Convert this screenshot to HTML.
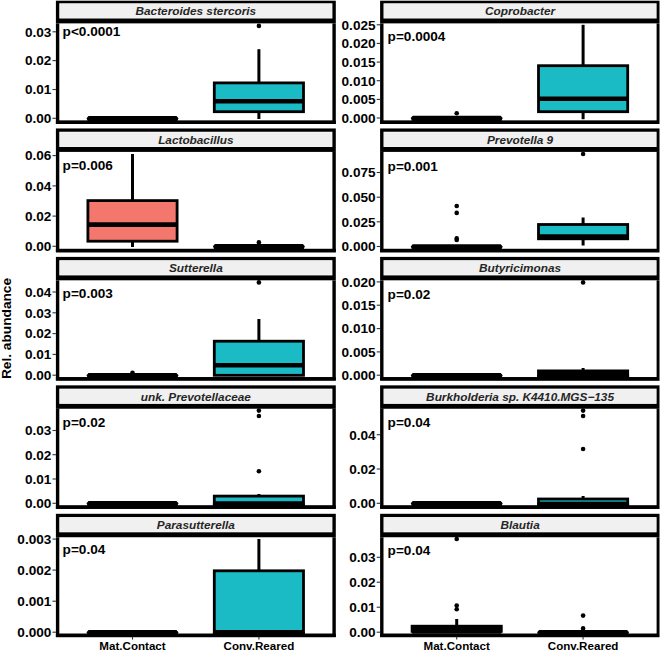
<!DOCTYPE html>
<html><head><meta charset="utf-8"><title>Rel. abundance boxplots</title>
<style>
html,body{margin:0;padding:0;background:#fff;}
body{width:660px;height:651px;overflow:hidden;}
svg{display:block;font-family:"Liberation Sans", sans-serif;}
</style></head>
<body>
<svg width="660" height="651" viewBox="0 0 660 651">
<rect x="0" y="0" width="660" height="651" fill="#fff"/>
<rect x="55.90" y="0.70" width="279.90" height="22.80" fill="#000"/>
<rect x="59.30" y="3.30" width="273.10" height="15.20" fill="#fff"/>
<rect x="59.90" y="3.90" width="271.90" height="14.00" fill="#f0f0f0"/>
<text x="195.85" y="15.20" font-size="11.8" font-weight="bold" font-style="italic" text-anchor="middle" fill="#262626">Bacteroides stercoris</text>
<rect x="55.90" y="23.50" width="279.90" height="100.50" fill="#000"/>
<rect x="59.30" y="23.50" width="273.10" height="97.10" fill="#fff"/>
<text x="62.60" y="35.90" font-size="13.6" font-weight="bold" font-style="normal" text-anchor="start" fill="#000">p&lt;0.0001</text>
<polygon points="86.50,118.30 88.50,116.00 176.50,116.00 178.50,118.30 177.50,120.60 177.50,121.70 87.50,121.70 87.50,120.60" fill="#000"/>
<line x1="258.90" y1="49.20" x2="258.90" y2="82.90" stroke="#000" stroke-width="3.0"/>
<line x1="258.90" y1="111.70" x2="258.90" y2="119.00" stroke="#000" stroke-width="3.0"/>
<rect x="214.30" y="82.90" width="89.20" height="28.80" fill="#1bbbc5" stroke="#000" stroke-width="2.8"/>
<line x1="214.30" y1="101.20" x2="303.50" y2="101.20" stroke="#000" stroke-width="4.6"/>
<circle cx="258.90" cy="25.90" r="2.3" fill="#000"/>
<rect x="55.90" y="120.60" width="279.90" height="3.40" fill="#000"/>
<line x1="52.50" y1="118.30" x2="55.90" y2="118.30" stroke="#333" stroke-width="1.1"/>
<text x="51.40" y="123.10" font-size="13.6" font-weight="bold" font-style="normal" text-anchor="end" fill="#000">0.00</text>
<line x1="52.50" y1="89.50" x2="55.90" y2="89.50" stroke="#333" stroke-width="1.1"/>
<text x="51.40" y="94.30" font-size="13.6" font-weight="bold" font-style="normal" text-anchor="end" fill="#000">0.01</text>
<line x1="52.50" y1="60.60" x2="55.90" y2="60.60" stroke="#333" stroke-width="1.1"/>
<text x="51.40" y="65.40" font-size="13.6" font-weight="bold" font-style="normal" text-anchor="end" fill="#000">0.02</text>
<line x1="52.50" y1="31.80" x2="55.90" y2="31.80" stroke="#333" stroke-width="1.1"/>
<text x="51.40" y="36.60" font-size="13.6" font-weight="bold" font-style="normal" text-anchor="end" fill="#000">0.03</text>
<rect x="380.10" y="0.70" width="279.90" height="22.80" fill="#000"/>
<rect x="383.50" y="3.30" width="273.10" height="15.20" fill="#fff"/>
<rect x="384.10" y="3.90" width="271.90" height="14.00" fill="#f0f0f0"/>
<text x="520.05" y="15.20" font-size="11.8" font-weight="bold" font-style="italic" text-anchor="middle" fill="#262626">Coprobacter</text>
<rect x="380.10" y="23.50" width="279.90" height="100.50" fill="#000"/>
<rect x="383.50" y="23.50" width="273.10" height="97.10" fill="#fff"/>
<text x="387.60" y="41.30" font-size="13.6" font-weight="bold" font-style="normal" text-anchor="start" fill="#000">p=0.0004</text>
<polygon points="410.70,118.00 412.70,115.70 500.70,115.70 502.70,118.00 501.70,120.30 501.70,121.40 411.70,121.40 411.70,120.30" fill="#000"/>
<circle cx="456.70" cy="113.20" r="2.3" fill="#000"/>
<line x1="583.10" y1="24.80" x2="583.10" y2="65.70" stroke="#000" stroke-width="3.0"/>
<line x1="583.10" y1="111.70" x2="583.10" y2="119.20" stroke="#000" stroke-width="3.0"/>
<rect x="538.50" y="65.70" width="89.20" height="46.00" fill="#1bbbc5" stroke="#000" stroke-width="2.8"/>
<line x1="538.50" y1="98.70" x2="627.70" y2="98.70" stroke="#000" stroke-width="4.6"/>
<rect x="380.10" y="120.60" width="279.90" height="3.40" fill="#000"/>
<line x1="376.70" y1="118.00" x2="380.10" y2="118.00" stroke="#333" stroke-width="1.1"/>
<text x="375.60" y="122.80" font-size="13.6" font-weight="bold" font-style="normal" text-anchor="end" fill="#000">0.000</text>
<line x1="376.70" y1="99.40" x2="380.10" y2="99.40" stroke="#333" stroke-width="1.1"/>
<text x="375.60" y="104.20" font-size="13.6" font-weight="bold" font-style="normal" text-anchor="end" fill="#000">0.005</text>
<line x1="376.70" y1="80.70" x2="380.10" y2="80.70" stroke="#333" stroke-width="1.1"/>
<text x="375.60" y="85.50" font-size="13.6" font-weight="bold" font-style="normal" text-anchor="end" fill="#000">0.010</text>
<line x1="376.70" y1="62.10" x2="380.10" y2="62.10" stroke="#333" stroke-width="1.1"/>
<text x="375.60" y="66.90" font-size="13.6" font-weight="bold" font-style="normal" text-anchor="end" fill="#000">0.015</text>
<line x1="376.70" y1="43.40" x2="380.10" y2="43.40" stroke="#333" stroke-width="1.1"/>
<text x="375.60" y="48.20" font-size="13.6" font-weight="bold" font-style="normal" text-anchor="end" fill="#000">0.020</text>
<line x1="376.70" y1="24.80" x2="380.10" y2="24.80" stroke="#333" stroke-width="1.1"/>
<text x="375.60" y="29.60" font-size="13.6" font-weight="bold" font-style="normal" text-anchor="end" fill="#000">0.025</text>
<rect x="55.90" y="128.45" width="279.90" height="23.50" fill="#000"/>
<rect x="59.30" y="131.75" width="273.10" height="15.20" fill="#fff"/>
<rect x="59.90" y="132.35" width="271.90" height="14.00" fill="#f0f0f0"/>
<text x="195.85" y="143.65" font-size="11.8" font-weight="bold" font-style="italic" text-anchor="middle" fill="#262626">Lactobacillus</text>
<rect x="55.90" y="151.95" width="279.90" height="100.33" fill="#000"/>
<rect x="59.30" y="151.95" width="273.10" height="96.93" fill="#fff"/>
<text x="62.60" y="169.90" font-size="13.6" font-weight="bold" font-style="normal" text-anchor="start" fill="#000">p=0.006</text>
<line x1="132.50" y1="154.00" x2="132.50" y2="200.60" stroke="#000" stroke-width="3.0"/>
<line x1="132.50" y1="241.20" x2="132.50" y2="247.00" stroke="#000" stroke-width="3.0"/>
<rect x="87.90" y="200.60" width="89.20" height="40.60" fill="#f3776d" stroke="#000" stroke-width="2.8"/>
<line x1="87.90" y1="224.60" x2="177.10" y2="224.60" stroke="#000" stroke-width="4.6"/>
<polygon points="212.90,246.30 214.90,244.00 302.90,244.00 304.90,246.30 303.90,248.60 303.90,249.70 213.90,249.70 213.90,248.60" fill="#000"/>
<circle cx="258.90" cy="242.40" r="2.3" fill="#000"/>
<rect x="55.90" y="248.88" width="279.90" height="3.40" fill="#000"/>
<line x1="52.50" y1="246.30" x2="55.90" y2="246.30" stroke="#333" stroke-width="1.1"/>
<text x="51.40" y="251.10" font-size="13.6" font-weight="bold" font-style="normal" text-anchor="end" fill="#000">0.00</text>
<line x1="52.50" y1="216.10" x2="55.90" y2="216.10" stroke="#333" stroke-width="1.1"/>
<text x="51.40" y="220.90" font-size="13.6" font-weight="bold" font-style="normal" text-anchor="end" fill="#000">0.02</text>
<line x1="52.50" y1="185.90" x2="55.90" y2="185.90" stroke="#333" stroke-width="1.1"/>
<text x="51.40" y="190.70" font-size="13.6" font-weight="bold" font-style="normal" text-anchor="end" fill="#000">0.04</text>
<line x1="52.50" y1="155.60" x2="55.90" y2="155.60" stroke="#333" stroke-width="1.1"/>
<text x="51.40" y="160.40" font-size="13.6" font-weight="bold" font-style="normal" text-anchor="end" fill="#000">0.06</text>
<rect x="380.10" y="128.45" width="279.90" height="23.50" fill="#000"/>
<rect x="383.50" y="131.75" width="273.10" height="15.20" fill="#fff"/>
<rect x="384.10" y="132.35" width="271.90" height="14.00" fill="#f0f0f0"/>
<text x="520.05" y="143.65" font-size="11.8" font-weight="bold" font-style="italic" text-anchor="middle" fill="#262626">Prevotella 9</text>
<rect x="380.10" y="151.95" width="279.90" height="100.33" fill="#000"/>
<rect x="383.50" y="151.95" width="273.10" height="96.93" fill="#fff"/>
<text x="387.60" y="171.30" font-size="13.6" font-weight="bold" font-style="normal" text-anchor="start" fill="#000">p=0.001</text>
<polygon points="410.70,246.50 412.70,244.20 500.70,244.20 502.70,246.50 501.70,248.80 501.70,249.90 411.70,249.90 411.70,248.80" fill="#000"/>
<circle cx="456.70" cy="206.00" r="2.3" fill="#000"/>
<circle cx="456.70" cy="212.90" r="2.3" fill="#000"/>
<circle cx="456.70" cy="238.40" r="2.3" fill="#000"/>
<circle cx="456.70" cy="240.00" r="2.3" fill="#000"/>
<line x1="583.10" y1="217.50" x2="583.10" y2="224.50" stroke="#000" stroke-width="3.0"/>
<line x1="583.10" y1="238.80" x2="583.10" y2="245.50" stroke="#000" stroke-width="3.0"/>
<rect x="538.50" y="224.50" width="89.20" height="14.30" fill="#1bbbc5" stroke="#000" stroke-width="2.8"/>
<line x1="538.50" y1="236.60" x2="627.70" y2="236.60" stroke="#000" stroke-width="4.6"/>
<circle cx="583.10" cy="154.00" r="2.3" fill="#000"/>
<rect x="380.10" y="248.88" width="279.90" height="3.40" fill="#000"/>
<line x1="376.70" y1="246.50" x2="380.10" y2="246.50" stroke="#333" stroke-width="1.1"/>
<text x="375.60" y="251.30" font-size="13.6" font-weight="bold" font-style="normal" text-anchor="end" fill="#000">0.000</text>
<line x1="376.70" y1="221.80" x2="380.10" y2="221.80" stroke="#333" stroke-width="1.1"/>
<text x="375.60" y="226.60" font-size="13.6" font-weight="bold" font-style="normal" text-anchor="end" fill="#000">0.025</text>
<line x1="376.70" y1="197.20" x2="380.10" y2="197.20" stroke="#333" stroke-width="1.1"/>
<text x="375.60" y="202.00" font-size="13.6" font-weight="bold" font-style="normal" text-anchor="end" fill="#000">0.050</text>
<line x1="376.70" y1="172.50" x2="380.10" y2="172.50" stroke="#333" stroke-width="1.1"/>
<text x="375.60" y="177.30" font-size="13.6" font-weight="bold" font-style="normal" text-anchor="end" fill="#000">0.075</text>
<rect x="55.90" y="256.90" width="279.90" height="23.50" fill="#000"/>
<rect x="59.30" y="260.20" width="273.10" height="15.20" fill="#fff"/>
<rect x="59.90" y="260.80" width="271.90" height="14.00" fill="#f0f0f0"/>
<text x="195.85" y="272.10" font-size="11.8" font-weight="bold" font-style="italic" text-anchor="middle" fill="#262626">Sutterella</text>
<rect x="55.90" y="280.40" width="279.90" height="100.16" fill="#000"/>
<rect x="59.30" y="280.40" width="273.10" height="96.76" fill="#fff"/>
<text x="62.60" y="298.30" font-size="13.6" font-weight="bold" font-style="normal" text-anchor="start" fill="#000">p=0.003</text>
<polygon points="86.50,375.20 88.50,372.90 176.50,372.90 178.50,375.20 177.50,377.50 177.50,378.60 87.50,378.60 87.50,377.50" fill="#000"/>
<circle cx="132.50" cy="372.80" r="2.3" fill="#000"/>
<line x1="258.90" y1="319.00" x2="258.90" y2="341.20" stroke="#000" stroke-width="3.0"/>
<line x1="258.90" y1="375.30" x2="258.90" y2="376.00" stroke="#000" stroke-width="3.0"/>
<rect x="214.30" y="341.20" width="89.20" height="34.10" fill="#1bbbc5" stroke="#000" stroke-width="2.8"/>
<line x1="214.30" y1="365.20" x2="303.50" y2="365.20" stroke="#000" stroke-width="4.6"/>
<circle cx="258.90" cy="282.40" r="2.3" fill="#000"/>
<rect x="55.90" y="377.16" width="279.90" height="3.40" fill="#000"/>
<line x1="52.50" y1="375.20" x2="55.90" y2="375.20" stroke="#333" stroke-width="1.1"/>
<text x="51.40" y="380.00" font-size="13.6" font-weight="bold" font-style="normal" text-anchor="end" fill="#000">0.00</text>
<line x1="52.50" y1="354.40" x2="55.90" y2="354.40" stroke="#333" stroke-width="1.1"/>
<text x="51.40" y="359.20" font-size="13.6" font-weight="bold" font-style="normal" text-anchor="end" fill="#000">0.01</text>
<line x1="52.50" y1="333.60" x2="55.90" y2="333.60" stroke="#333" stroke-width="1.1"/>
<text x="51.40" y="338.40" font-size="13.6" font-weight="bold" font-style="normal" text-anchor="end" fill="#000">0.02</text>
<line x1="52.50" y1="312.80" x2="55.90" y2="312.80" stroke="#333" stroke-width="1.1"/>
<text x="51.40" y="317.60" font-size="13.6" font-weight="bold" font-style="normal" text-anchor="end" fill="#000">0.03</text>
<line x1="52.50" y1="292.00" x2="55.90" y2="292.00" stroke="#333" stroke-width="1.1"/>
<text x="51.40" y="296.80" font-size="13.6" font-weight="bold" font-style="normal" text-anchor="end" fill="#000">0.04</text>
<rect x="380.10" y="256.90" width="279.90" height="23.50" fill="#000"/>
<rect x="383.50" y="260.20" width="273.10" height="15.20" fill="#fff"/>
<rect x="384.10" y="260.80" width="271.90" height="14.00" fill="#f0f0f0"/>
<text x="520.05" y="272.10" font-size="11.8" font-weight="bold" font-style="italic" text-anchor="middle" fill="#262626">Butyricimonas</text>
<rect x="380.10" y="280.40" width="279.90" height="100.16" fill="#000"/>
<rect x="383.50" y="280.40" width="273.10" height="96.76" fill="#fff"/>
<text x="387.60" y="298.90" font-size="13.6" font-weight="bold" font-style="normal" text-anchor="start" fill="#000">p=0.02</text>
<polygon points="410.70,375.20 412.70,372.90 500.70,372.90 502.70,375.20 501.70,377.50 501.70,378.60 411.70,378.60 411.70,377.50" fill="#000"/>
<line x1="583.10" y1="368.00" x2="583.10" y2="370.90" stroke="#000" stroke-width="3.0"/>
<line x1="583.10" y1="375.20" x2="583.10" y2="375.20" stroke="#000" stroke-width="3.0"/>
<rect x="538.50" y="370.90" width="89.20" height="4.30" fill="#000" stroke="#000" stroke-width="2.8"/>
<line x1="538.50" y1="375.20" x2="627.70" y2="375.20" stroke="#000" stroke-width="4.6"/>
<rect x="537.10" y="375.20" width="92.00" height="3.40" fill="#000"/>
<circle cx="583.10" cy="282.40" r="2.3" fill="#000"/>
<rect x="380.10" y="377.16" width="279.90" height="3.40" fill="#000"/>
<line x1="376.70" y1="375.20" x2="380.10" y2="375.20" stroke="#333" stroke-width="1.1"/>
<text x="375.60" y="380.00" font-size="13.6" font-weight="bold" font-style="normal" text-anchor="end" fill="#000">0.000</text>
<line x1="376.70" y1="351.90" x2="380.10" y2="351.90" stroke="#333" stroke-width="1.1"/>
<text x="375.60" y="356.70" font-size="13.6" font-weight="bold" font-style="normal" text-anchor="end" fill="#000">0.005</text>
<line x1="376.70" y1="328.60" x2="380.10" y2="328.60" stroke="#333" stroke-width="1.1"/>
<text x="375.60" y="333.40" font-size="13.6" font-weight="bold" font-style="normal" text-anchor="end" fill="#000">0.010</text>
<line x1="376.70" y1="305.20" x2="380.10" y2="305.20" stroke="#333" stroke-width="1.1"/>
<text x="375.60" y="310.00" font-size="13.6" font-weight="bold" font-style="normal" text-anchor="end" fill="#000">0.015</text>
<line x1="376.70" y1="281.90" x2="380.10" y2="281.90" stroke="#333" stroke-width="1.1"/>
<text x="375.60" y="286.70" font-size="13.6" font-weight="bold" font-style="normal" text-anchor="end" fill="#000">0.020</text>
<rect x="55.90" y="385.35" width="279.90" height="23.50" fill="#000"/>
<rect x="59.30" y="388.65" width="273.10" height="15.20" fill="#fff"/>
<rect x="59.90" y="389.25" width="271.90" height="14.00" fill="#f0f0f0"/>
<text x="195.85" y="400.55" font-size="11.8" font-weight="bold" font-style="italic" text-anchor="middle" fill="#262626">unk. Prevotellaceae</text>
<rect x="55.90" y="408.85" width="279.90" height="99.99" fill="#000"/>
<rect x="59.30" y="408.85" width="273.10" height="96.59" fill="#fff"/>
<text x="62.60" y="427.30" font-size="13.6" font-weight="bold" font-style="normal" text-anchor="start" fill="#000">p=0.02</text>
<polygon points="86.50,503.30 88.50,501.00 176.50,501.00 178.50,503.30 177.50,505.60 177.50,506.70 87.50,506.70 87.50,505.60" fill="#000"/>
<line x1="258.90" y1="494.00" x2="258.90" y2="496.10" stroke="#000" stroke-width="3.0"/>
<line x1="258.90" y1="503.30" x2="258.90" y2="503.30" stroke="#000" stroke-width="3.0"/>
<rect x="214.30" y="496.10" width="89.20" height="7.20" fill="#1bbbc5" stroke="#000" stroke-width="2.8"/>
<line x1="214.30" y1="503.60" x2="303.50" y2="503.60" stroke="#000" stroke-width="4.6"/>
<rect x="212.90" y="503.30" width="92.00" height="3.40" fill="#000"/>
<circle cx="258.90" cy="410.60" r="2.3" fill="#000"/>
<circle cx="258.90" cy="416.00" r="2.3" fill="#000"/>
<circle cx="258.90" cy="471.20" r="2.3" fill="#000"/>
<rect x="55.90" y="505.44" width="279.90" height="3.40" fill="#000"/>
<line x1="52.50" y1="503.30" x2="55.90" y2="503.30" stroke="#333" stroke-width="1.1"/>
<text x="51.40" y="508.10" font-size="13.6" font-weight="bold" font-style="normal" text-anchor="end" fill="#000">0.00</text>
<line x1="52.50" y1="479.00" x2="55.90" y2="479.00" stroke="#333" stroke-width="1.1"/>
<text x="51.40" y="483.80" font-size="13.6" font-weight="bold" font-style="normal" text-anchor="end" fill="#000">0.01</text>
<line x1="52.50" y1="454.70" x2="55.90" y2="454.70" stroke="#333" stroke-width="1.1"/>
<text x="51.40" y="459.50" font-size="13.6" font-weight="bold" font-style="normal" text-anchor="end" fill="#000">0.02</text>
<line x1="52.50" y1="430.50" x2="55.90" y2="430.50" stroke="#333" stroke-width="1.1"/>
<text x="51.40" y="435.30" font-size="13.6" font-weight="bold" font-style="normal" text-anchor="end" fill="#000">0.03</text>
<rect x="380.10" y="385.35" width="279.90" height="23.50" fill="#000"/>
<rect x="383.50" y="388.65" width="273.10" height="15.20" fill="#fff"/>
<rect x="384.10" y="389.25" width="271.90" height="14.00" fill="#f0f0f0"/>
<text x="520.05" y="400.55" font-size="11.8" font-weight="bold" font-style="italic" text-anchor="middle" fill="#262626">Burkholderia sp. K4410.MGS&#8722;135</text>
<rect x="380.10" y="408.85" width="279.90" height="99.99" fill="#000"/>
<rect x="383.50" y="408.85" width="273.10" height="96.59" fill="#fff"/>
<text x="387.60" y="427.30" font-size="13.6" font-weight="bold" font-style="normal" text-anchor="start" fill="#000">p=0.04</text>
<polygon points="410.70,503.30 412.70,501.00 500.70,501.00 502.70,503.30 501.70,505.60 501.70,506.70 411.70,506.70 411.70,505.60" fill="#000"/>
<line x1="583.10" y1="496.00" x2="583.10" y2="499.00" stroke="#000" stroke-width="3.0"/>
<line x1="583.10" y1="503.30" x2="583.10" y2="503.30" stroke="#000" stroke-width="3.0"/>
<rect x="538.50" y="499.00" width="89.20" height="4.30" fill="#1bbbc5" stroke="#000" stroke-width="2.8"/>
<line x1="538.50" y1="504.10" x2="627.70" y2="504.10" stroke="#000" stroke-width="4.6"/>
<rect x="537.10" y="503.30" width="92.00" height="3.40" fill="#000"/>
<circle cx="583.10" cy="410.60" r="2.3" fill="#000"/>
<circle cx="583.10" cy="416.00" r="2.3" fill="#000"/>
<circle cx="583.10" cy="449.00" r="2.3" fill="#000"/>
<rect x="380.10" y="505.44" width="279.90" height="3.40" fill="#000"/>
<line x1="376.70" y1="503.30" x2="380.10" y2="503.30" stroke="#333" stroke-width="1.1"/>
<text x="375.60" y="508.10" font-size="13.6" font-weight="bold" font-style="normal" text-anchor="end" fill="#000">0.00</text>
<line x1="376.70" y1="469.00" x2="380.10" y2="469.00" stroke="#333" stroke-width="1.1"/>
<text x="375.60" y="473.80" font-size="13.6" font-weight="bold" font-style="normal" text-anchor="end" fill="#000">0.02</text>
<line x1="376.70" y1="434.70" x2="380.10" y2="434.70" stroke="#333" stroke-width="1.1"/>
<text x="375.60" y="439.50" font-size="13.6" font-weight="bold" font-style="normal" text-anchor="end" fill="#000">0.04</text>
<rect x="55.90" y="513.80" width="279.90" height="23.50" fill="#000"/>
<rect x="59.30" y="517.10" width="273.10" height="15.20" fill="#fff"/>
<rect x="59.90" y="517.70" width="271.90" height="14.00" fill="#f0f0f0"/>
<text x="195.85" y="529.00" font-size="11.8" font-weight="bold" font-style="italic" text-anchor="middle" fill="#262626">Parasutterella</text>
<rect x="55.90" y="537.30" width="279.90" height="99.82" fill="#000"/>
<rect x="59.30" y="537.30" width="273.10" height="96.42" fill="#fff"/>
<text x="62.60" y="553.90" font-size="13.6" font-weight="bold" font-style="normal" text-anchor="start" fill="#000">p=0.04</text>
<polygon points="86.50,632.20 88.50,629.90 176.50,629.90 178.50,632.20 177.50,634.50 177.50,635.60 87.50,635.60 87.50,634.50" fill="#000"/>
<line x1="258.90" y1="539.00" x2="258.90" y2="570.80" stroke="#000" stroke-width="3.0"/>
<line x1="258.90" y1="632.20" x2="258.90" y2="632.20" stroke="#000" stroke-width="3.0"/>
<rect x="214.30" y="570.80" width="89.20" height="61.40" fill="#1bbbc5" stroke="#000" stroke-width="2.8"/>
<line x1="214.30" y1="632.20" x2="303.50" y2="632.20" stroke="#000" stroke-width="4.6"/>
<rect x="212.90" y="632.20" width="92.00" height="3.40" fill="#000"/>
<rect x="55.90" y="633.72" width="279.90" height="3.40" fill="#000"/>
<line x1="52.50" y1="632.20" x2="55.90" y2="632.20" stroke="#333" stroke-width="1.1"/>
<text x="51.40" y="637.00" font-size="13.6" font-weight="bold" font-style="normal" text-anchor="end" fill="#000">0.000</text>
<line x1="52.50" y1="601.20" x2="55.90" y2="601.20" stroke="#333" stroke-width="1.1"/>
<text x="51.40" y="606.00" font-size="13.6" font-weight="bold" font-style="normal" text-anchor="end" fill="#000">0.001</text>
<line x1="52.50" y1="570.10" x2="55.90" y2="570.10" stroke="#333" stroke-width="1.1"/>
<text x="51.40" y="574.90" font-size="13.6" font-weight="bold" font-style="normal" text-anchor="end" fill="#000">0.002</text>
<line x1="52.50" y1="539.10" x2="55.90" y2="539.10" stroke="#333" stroke-width="1.1"/>
<text x="51.40" y="543.90" font-size="13.6" font-weight="bold" font-style="normal" text-anchor="end" fill="#000">0.003</text>
<rect x="380.10" y="513.80" width="279.90" height="23.50" fill="#000"/>
<rect x="383.50" y="517.10" width="273.10" height="15.20" fill="#fff"/>
<rect x="384.10" y="517.70" width="271.90" height="14.00" fill="#f0f0f0"/>
<text x="520.05" y="529.00" font-size="11.8" font-weight="bold" font-style="italic" text-anchor="middle" fill="#262626">Blautia</text>
<rect x="380.10" y="537.30" width="279.90" height="99.82" fill="#000"/>
<rect x="383.50" y="537.30" width="273.10" height="96.42" fill="#fff"/>
<text x="387.60" y="555.30" font-size="13.6" font-weight="bold" font-style="normal" text-anchor="start" fill="#000">p=0.04</text>
<line x1="456.70" y1="619.00" x2="456.70" y2="626.20" stroke="#000" stroke-width="3.0"/>
<line x1="456.70" y1="631.40" x2="456.70" y2="631.40" stroke="#000" stroke-width="3.0"/>
<rect x="412.10" y="626.20" width="89.20" height="5.20" fill="#000" stroke="#000" stroke-width="2.8"/>
<line x1="412.10" y1="631.40" x2="501.30" y2="631.40" stroke="#000" stroke-width="4.6"/>
<circle cx="456.70" cy="539.00" r="2.3" fill="#000"/>
<circle cx="456.70" cy="605.60" r="2.3" fill="#000"/>
<circle cx="456.70" cy="609.30" r="2.3" fill="#000"/>
<polygon points="537.10,632.20 539.10,629.90 627.10,629.90 629.10,632.20 628.10,634.50 628.10,635.60 538.10,635.60 538.10,634.50" fill="#000"/>
<circle cx="583.10" cy="615.60" r="2.3" fill="#000"/>
<circle cx="583.10" cy="628.40" r="2.3" fill="#000"/>
<rect x="380.10" y="633.72" width="279.90" height="3.40" fill="#000"/>
<line x1="376.70" y1="632.20" x2="380.10" y2="632.20" stroke="#333" stroke-width="1.1"/>
<text x="375.60" y="637.00" font-size="13.6" font-weight="bold" font-style="normal" text-anchor="end" fill="#000">0.00</text>
<line x1="376.70" y1="607.20" x2="380.10" y2="607.20" stroke="#333" stroke-width="1.1"/>
<text x="375.60" y="612.00" font-size="13.6" font-weight="bold" font-style="normal" text-anchor="end" fill="#000">0.01</text>
<line x1="376.70" y1="582.20" x2="380.10" y2="582.20" stroke="#333" stroke-width="1.1"/>
<text x="375.60" y="587.00" font-size="13.6" font-weight="bold" font-style="normal" text-anchor="end" fill="#000">0.02</text>
<line x1="376.70" y1="557.30" x2="380.10" y2="557.30" stroke="#333" stroke-width="1.1"/>
<text x="375.60" y="562.10" font-size="13.6" font-weight="bold" font-style="normal" text-anchor="end" fill="#000">0.03</text>
<line x1="132.50" y1="636.80" x2="132.50" y2="639.60" stroke="#333" stroke-width="1.1"/>
<text x="132.50" y="650.00" font-size="11.6" font-weight="bold" font-style="normal" text-anchor="middle" fill="#000">Mat.Contact</text>
<line x1="258.90" y1="636.80" x2="258.90" y2="639.60" stroke="#333" stroke-width="1.1"/>
<text x="258.90" y="650.00" font-size="11.6" font-weight="bold" font-style="normal" text-anchor="middle" fill="#000">Conv.Reared</text>
<line x1="456.70" y1="636.80" x2="456.70" y2="639.60" stroke="#333" stroke-width="1.1"/>
<text x="456.70" y="650.00" font-size="11.6" font-weight="bold" font-style="normal" text-anchor="middle" fill="#000">Mat.Contact</text>
<line x1="583.10" y1="636.80" x2="583.10" y2="639.60" stroke="#333" stroke-width="1.1"/>
<text x="583.10" y="650.00" font-size="11.6" font-weight="bold" font-style="normal" text-anchor="middle" fill="#000">Conv.Reared</text>
<text transform="translate(10.7,328.5) rotate(-90)" font-size="13.7" font-weight="bold" text-anchor="middle" fill="#000">Rel. abundance</text>
<rect x="659.5" y="0" width="0.5" height="651" fill="#fff"/>
</svg>
</body></html>
